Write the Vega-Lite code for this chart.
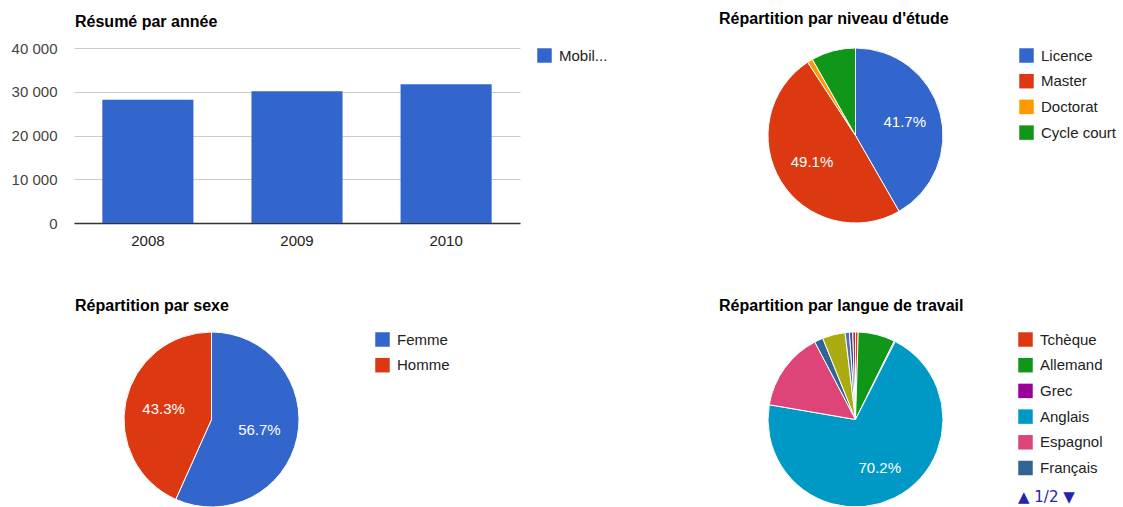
{
  "$schema": "https://vega.github.io/schema/vega-lite/v6.json",
  "background": "white",
  "padding": {"left": 11, "top": 11, "right": 0, "bottom": 0},
  "columns": 2,
  "spacing": {"row": 109, "column": 248},
  "bounds": "flush",
  "align": "all",
  "datasets": {
    "annees": [
      {"annee": "2008", "mobilite": 28150},
      {"annee": "2009", "mobilite": 30130},
      {"annee": "2010", "mobilite": 31700}
    ],
    "niveaux": [
      {"i": 0, "niveau": "Licence", "part": 0.417},
      {"i": 1, "niveau": "Master", "part": 0.491},
      {"i": 2, "niveau": "Doctorat", "part": 0.010},
      {"i": 3, "niveau": "Cycle court", "part": 0.082}
    ],
    "sexes": [
      {"i": 0, "sexe": "Femme", "part": 0.567},
      {"i": 1, "sexe": "Homme", "part": 0.433}
    ],
    "langues": [
      {"i": 0, "langue": "Tchèque", "part": 0.005},
      {"i": 1, "langue": "Allemand", "part": 0.068},
      {"i": 2, "langue": "Grec", "part": 0.002},
      {"i": 3, "langue": "Anglais", "part": 0.702},
      {"i": 4, "langue": "Espagnol", "part": 0.146},
      {"i": 5, "langue": "Français", "part": 0.016},
      {"i": 6, "langue": "Italien", "part": 0.042},
      {"i": 7, "langue": "Portugais", "part": 0.008},
      {"i": 8, "langue": "Polonais", "part": 0.006},
      {"i": 9, "langue": "Autres", "part": 0.005}
    ]
  },
  "concat": [
    {
      "title": {"text": "Résumé par année", "dx": 1, "offset": 11},
      "width": 446,
      "height": 175,
      "data": {"name": "annees"},
      "mark": {"type": "bar"},
      "encoding": {
        "x": {
          "field": "annee", "type": "ordinal",
          "scale": {"paddingInner": 0.389, "paddingOuter": 0.19},
          "axis": {"title": null, "labelAngle": 0, "ticks": false, "tickSize": 0, "labelPadding": 10, "domainColor": "#333333", "domainWidth": 1.5, "grid": false, "labelColor": "#222222"}
        },
        "y": {
          "field": "mobilite", "type": "quantitative",
          "scale": {"domain": [0, 40000], "nice": false},
          "axis": {"title": null, "values": [0, 10000, 20000, 30000, 40000], "domain": false, "ticks": false, "tickSize": 0, "labelPadding": 17, "gridColor": "#cccccc", "labelColor": "#444444", "labelExpr": "replace(format(datum.value, ','), ',', ' ')"}
        },
        "color": {
          "datum": "Mobil...", "type": "nominal",
          "scale": {"range": ["#3366cc"]},
          "legend": {"title": null, "offset": 17, "symbolType": "square"}
        }
      }
    },
    {
      "title": {"text": "Répartition par niveau d'étude", "dx": -49, "offset": 19},
      "width": 175,
      "height": 175,
      "data": {"name": "niveaux"},
      "encoding": {
        "theta": {"field": "part", "type": "quantitative", "stack": true},
        "order": {"field": "i", "type": "quantitative"},
        "color": {
          "field": "niveau", "type": "nominal",
          "scale": {"domain": ["Licence", "Master", "Doctorat", "Cycle court"], "range": ["#3366cc", "#dc3912", "#ff9900", "#109618"]},
          "legend": {"title": null, "offset": 76, "symbolType": "square"}
        }
      },
      "layer": [
        {"mark": {"type": "arc", "outerRadius": 87.5, "stroke": "#ffffff", "strokeWidth": 1}},
        {
          "mark": {"type": "text", "radius": 51, "fontSize": 15, "font": "Liberation Sans"},
          "encoding": {
            "text": {"field": "part", "type": "quantitative", "format": ".1%"},
            "color": {"value": "#ffffff"},
            "opacity": {"condition": {"test": "datum.part < 0.2", "value": 0}, "value": 1}
          }
        }
      ]
    },
    {
      "title": {"text": "Répartition par sexe", "dx": 1, "offset": 16},
      "width": 275,
      "height": 175,
      "data": {"name": "sexes"},
      "encoding": {
        "theta": {"field": "part", "type": "quantitative", "stack": true},
        "order": {"field": "i", "type": "quantitative"},
        "color": {
          "field": "sexe", "type": "nominal",
          "scale": {"domain": ["Femme", "Homme"], "range": ["#3366cc", "#dc3912"]},
          "legend": {"title": null, "offset": 26, "symbolType": "square"}
        }
      },
      "layer": [
        {"mark": {"type": "arc", "outerRadius": 87.5, "stroke": "#ffffff", "strokeWidth": 1}},
        {
          "mark": {"type": "text", "radius": 49, "fontSize": 15, "font": "Liberation Sans"},
          "encoding": {
            "text": {"field": "part", "type": "quantitative", "format": ".1%"},
            "color": {"value": "#ffffff"},
            "opacity": {"condition": {"test": "datum.part < 0.2", "value": 0}, "value": 1}
          }
        }
      ]
    },
    {
      "title": {"text": "Répartition par langue de travail", "dx": -49, "offset": 16},
      "width": 175,
      "height": 175,
      "data": {"name": "langues"},
      "encoding": {
        "theta": {"field": "part", "type": "quantitative", "stack": true},
        "order": {"field": "i", "type": "quantitative"},
        "color": {
          "field": "langue", "type": "nominal",
          "scale": {
            "domain": ["Tchèque", "Allemand", "Grec", "Anglais", "Espagnol", "Français", "Italien", "Portugais", "Polonais", "Autres"],
            "range": ["#dc3912", "#109618", "#990099", "#0099c6", "#dd4477", "#316395", "#aaaa11", "#5574a6", "#3b3eac", "#b82e2e"]
          },
          "legend": {
            "title": "▲ 1/2 ▼", "titleOrient": "bottom", "titleAnchor": "start", "titlePadding": 14,
            "titleFontSize": 15, "titleFontWeight": "normal", "titleColor": "#2424b0", "titleFont": "DejaVu Sans",
            "values": ["Tchèque", "Allemand", "Grec", "Anglais", "Espagnol", "Français"],
            "offset": 75, "symbolType": "square"
          }
        }
      },
      "layer": [
        {"mark": {"type": "arc", "outerRadius": 87.5, "stroke": "#ffffff", "strokeWidth": 1}},
        {
          "mark": {"type": "text", "radius": 54, "fontSize": 15, "font": "Liberation Sans"},
          "encoding": {
            "text": {"field": "part", "type": "quantitative", "format": ".1%"},
            "color": {"value": "#ffffff"},
            "opacity": {"condition": {"test": "datum.part < 0.2", "value": 0}, "value": 1}
          }
        }
      ]
    }
  ],
  "resolve": {
    "scale": {"color": "independent", "theta": "independent"},
    "legend": {"color": "independent"}
  },
  "config": {
    "font": "Liberation Sans",
    "view": {"stroke": null},
    "axis": {"labelFont": "Liberation Sans", "labelFontSize": 15},
    "legend": {
      "orient": "right",
      "labelFont": "Liberation Sans", "labelFontSize": 15, "labelColor": "#222222",
      "symbolType": "square", "symbolSize": 210, "symbolStrokeWidth": 0, "symbolOpacity": 1,
      "rowPadding": 9.7, "labelOffset": 7, "padding": 0
    },
    "title": {
      "anchor": "start", "frame": "group", "font": "Liberation Sans", "fontSize": 16,
      "fontWeight": "bold", "color": "#000000", "baseline": "alphabetic"
    }
  }
}
